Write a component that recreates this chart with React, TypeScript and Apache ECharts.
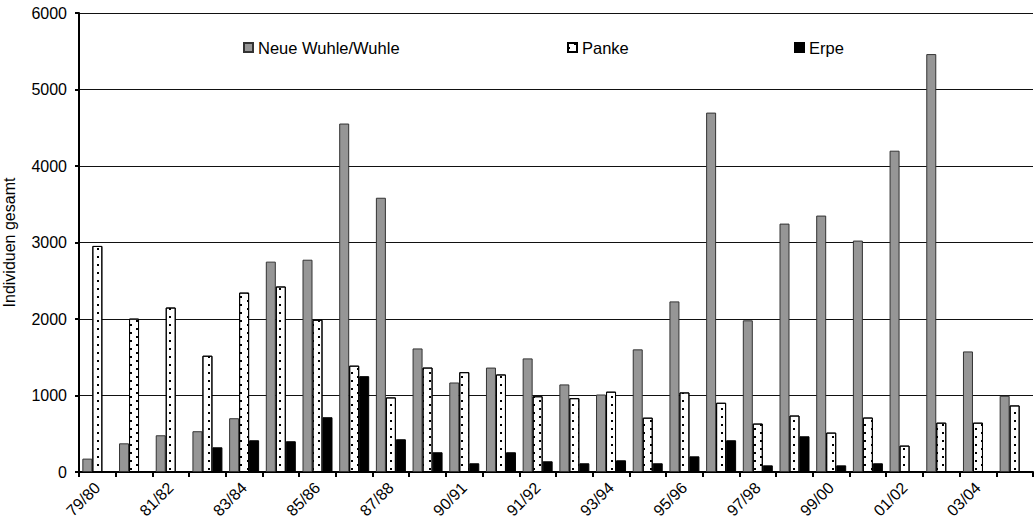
import React, { useEffect, useRef } from "react";
import * as echarts from "echarts";

// Seasons (every second one is labelled on the axis)
const categories = [
  "79/80", "80/81", "81/82", "82/83", "83/84", "84/85", "85/86", "86/87",
  "87/88", "88/89", "90/91", "90/91 II", "91/92", "92/93", "93/94", "94/95",
  "95/96", "96/97", "97/98", "98/99", "99/00", "00/01", "01/02", "02/03",
  "03/04", "04/05",
];

const wuhle = [
  175, 375, 480, 533, 703, 2750, 2775, 4555, 3585, 1615, 1170, 1365, 1485,
  1145, 1013, 1603, 2230, 4698, 1983, 3247, 3352, 3025, 4200, 5463, 1576, 996,
];

const panke = [
  2955, 2005, 2150, 1520, 2345, 2425, 1990, 1390, 975, 1365, 1305, 1275, 990,
  965, 1050, 710, 1040, 905, 633, 738, 515, 712, 345, 645, 645, 870,
];

const erpe: (number | null)[] = [
  null, null, null, 323, 415, 402, 716, 1253, 428, 258, 114, 258, 140, 114,
  153, 114, 205, 415, 87, 467, 87, 114, null, null, null, null,
];

const yTicks = { min: 0, max: 6000, interval: 1000 };

const FONT = "'Liberation Sans', Arial, sans-serif";

export default function App() {
  const ref = useRef<HTMLDivElement>(null);

  useEffect(() => {
    document.body.style.margin = "0";
    if (!ref.current) return;
    const chart = echarts.init(ref.current, undefined, { renderer: "svg" });

    const legendBase = {
      orient: "horizontal" as const,
      top: 39,
      padding: 0,
      itemWidth: 9,
      itemHeight: 9,
      icon: "rect",
      selectedMode: false,
      textStyle: { fontFamily: FONT, fontSize: 16.5, color: "#000" },
    };

    chart.setOption({
      animation: false,
      backgroundColor: "#fff",
      textStyle: { fontFamily: FONT },
      legend: [
        { ...legendBase, left: 243, data: ["Neue Wuhle/Wuhle"] },
        { ...legendBase, left: 567, data: ["Panke"] },
        { ...legendBase, left: 794, data: ["Erpe"] },
      ],
      grid: {
        left: 79,
        right: 2,
        top: 13,
        bottom: 52,
        containLabel: false,
        outerBoundsMode: "none",
      },
      xAxis: {
        type: "category",
        data: categories,
        boundaryGap: true,
        axisLine: { show: true, lineStyle: { color: "#000", width: 2 } },
        axisTick: {
          show: true,
          interval: 0,
          length: 5,
          inside: false,
          lineStyle: { color: "#000", width: 2 },
        },
        axisLabel: {
          interval: 1,
          rotate: 45,
          margin: 13,
          fontSize: 16,
          fontFamily: FONT,
          color: "#000",
        },
        splitLine: { show: false },
      },
      yAxis: {
        type: "value",
        min: yTicks.min,
        max: yTicks.max,
        interval: yTicks.interval,
        name: "Individuen gesamt",
        nameLocation: "middle",
        nameGap: 62,
        nameRotate: 90,
        nameTextStyle: { fontFamily: FONT, fontSize: 16, color: "#000" },
        axisLine: { show: true, lineStyle: { color: "#000", width: 2 } },
        axisTick: { show: true, length: 4, lineStyle: { color: "#000", width: 2 } },
        axisLabel: {
          margin: 12,
          fontSize: 16,
          fontFamily: FONT,
          color: "#000",
          formatter: (v: number) => String(v),
        },
        splitLine: { show: true, lineStyle: { color: "#111", width: 1 } },
      },
      series: [
        {
          name: "Neue Wuhle/Wuhle",
          type: "bar",
          data: wuhle,
          barWidth: 10,
          barGap: "0%",
          itemStyle: { color: "#969696", borderColor: "#333", borderWidth: 1 },
        },
        {
          name: "Panke",
          type: "bar",
          data: panke,
          barWidth: 10,
          barGap: "0%",
          itemStyle: {
            color: "#fff",
            borderColor: "#000",
            borderWidth: 1,
            decal: {
              symbol: "rect",
              symbolSize: 1,
              color: "#000",
              dashArrayX: [
                [1.2, 10.8],
                [0, 6, 1.2, 4.8],
              ],
              dashArrayY: [1.2, 1.8],
              rotation: 0,
            },
          },
        },
        {
          name: "Erpe",
          type: "bar",
          data: erpe,
          barWidth: 10,
          barGap: "0%",
          itemStyle: { color: "#000", borderColor: "#000", borderWidth: 1 },
        },
      ],
    });

    return () => chart.dispose();
  }, []);

  return <div ref={ref} style={{ width: 1035, height: 524 }} />;
}
